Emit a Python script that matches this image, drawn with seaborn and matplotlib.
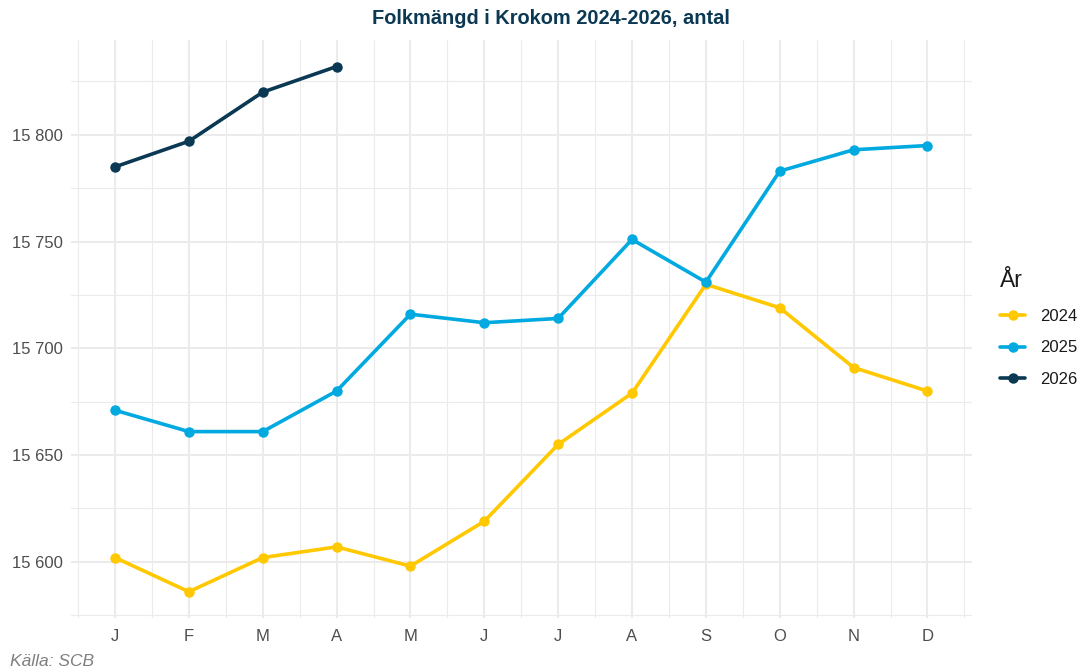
import matplotlib
matplotlib.use("Agg")
import matplotlib.pyplot as plt
import seaborn as sns
import pandas as pd
import numpy as np
from matplotlib.ticker import FuncFormatter, MultipleLocator

months = ["J", "F", "M", "A", "M", "J", "J", "A", "S", "O", "N", "D"]
v2024 = [15602, 15586, 15602, 15607, 15598, 15619, 15655, 15679, 15730, 15719, 15691, 15680]
v2025 = [15671, 15661, 15661, 15680, 15716, 15712, 15714, 15751, 15731, 15783, 15793, 15795]
v2026 = [15785, 15797, 15820, 15832]
years = ["2024", "2025", "2026"]
colors = ["#FFC800", "#00A9E0", "#0B3954"]

rows = []
for y, vals in zip(years, [v2024, v2025, v2026]):
    for i, v in enumerate(vals):
        rows.append({"idx": i, "value": v, "År": y})
df = pd.DataFrame(rows)

sns.set_theme(style="white")
plt.rcParams["font.family"] = ["Liberation Sans", "DejaVu Sans"]

fig = plt.figure(figsize=(10.86, 6.71), dpi=100)
ax = fig.add_axes([0.0651, 0.079, 0.8297, 0.861])

sns.lineplot(data=df, x="idx", y="value", hue="År", palette=dict(zip(years, colors)),
             marker="o", markersize=7.5, markeredgewidth=0, linewidth=2.6, ax=ax)

ax.set_xlim(-0.6, 11.6)
ax.set_ylim(15573.7, 15844.3)
ax.set_xticks(range(12))
ax.set_xticklabels(months)
ax.set_xticks(np.arange(-0.5, 12, 1), minor=True)
ax.yaxis.set_major_locator(MultipleLocator(50))
ax.yaxis.set_minor_locator(MultipleLocator(25))
ax.yaxis.set_major_formatter(FuncFormatter(lambda v, p: f"{int(v):,}".replace(",", " ")))
ax.grid(which="major", color="#EBEBEB", linewidth=1.5)
ax.grid(which="minor", color="#EBEBEB", linewidth=0.8)
ax.set_axisbelow(True)
for s in ax.spines.values():
    s.set_visible(False)
ax.tick_params(axis="both", which="both", length=0, labelsize=12, colors="#4D4D4D")
ax.tick_params(axis="x", pad=8)
ax.tick_params(axis="y", pad=5.5)
ax.set_xlabel("")
ax.set_ylabel("")

fig.suptitle("Folkmängd i Krokom 2024-2026, antal", x=0.507, y=0.987, fontsize=14.4,
             fontweight="bold", color="#0B3954")

leg = ax.legend(title="År", loc="center left", bbox_to_anchor=(1000 / 1086, 0.511),
                bbox_transform=fig.transFigure, frameon=False, borderpad=0, borderaxespad=0,
                fontsize=12, title_fontsize=16.5, handlelength=1.5, labelspacing=1.0,
                handletextpad=0.9)
leg._legend_box.align = "left"
for t in leg.get_texts():
    t.set_color("#1A1A1A")
leg.get_title().set_color("#1A1A1A")

fig.text(0.009, 0.008, "Källa: SCB", fontsize=12.5, style="italic", color="#7F7F7F")

fig.savefig("out.png", dpi=100)
